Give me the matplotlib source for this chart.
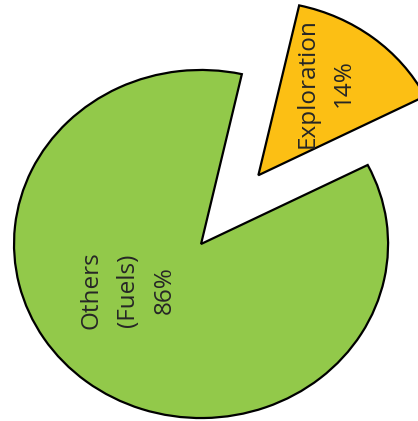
import matplotlib.pyplot as plt

# data
categories = ["Exploration", "Others\n(Fuels)"]
shares = [14, 86]
colors = ["#FCBF14", "#92C94A"]
explode = [0.5, 0.0]

plt.rcParams['font.family'] = ['Open Sans', 'DejaVu Sans']

fig = plt.figure(figsize=(4.18, 4.21), dpi=100)
ax = fig.add_axes([0, 0, 1, 1])

wedges, texts = ax.pie(
    shares,
    colors=colors,
    explode=explode,
    startangle=27,
    counterclock=True,
    wedgeprops=dict(edgecolor='black', linewidth=1.6),
)

# label positions (data units) and text
label_pos = [(0.668, 0.925), (-0.39, -0.264)]
for name, val, (x, y) in zip(categories, shares, label_pos):
    ax.text(x, y, f"{name}\n{val}%", rotation=90, ha='center', va='center',
            rotation_mode='anchor', fontsize=17.5, color='#262626',
            linespacing=1.7, multialignment='center')

# the reference is slightly stretched horizontally
ax.set_aspect('auto')
ax.set_xlim(-1.075, 1.160)
ax.set_ylim(-1.017, 1.402)
ax.axis('off')

fig.savefig('out.png', dpi=100)
